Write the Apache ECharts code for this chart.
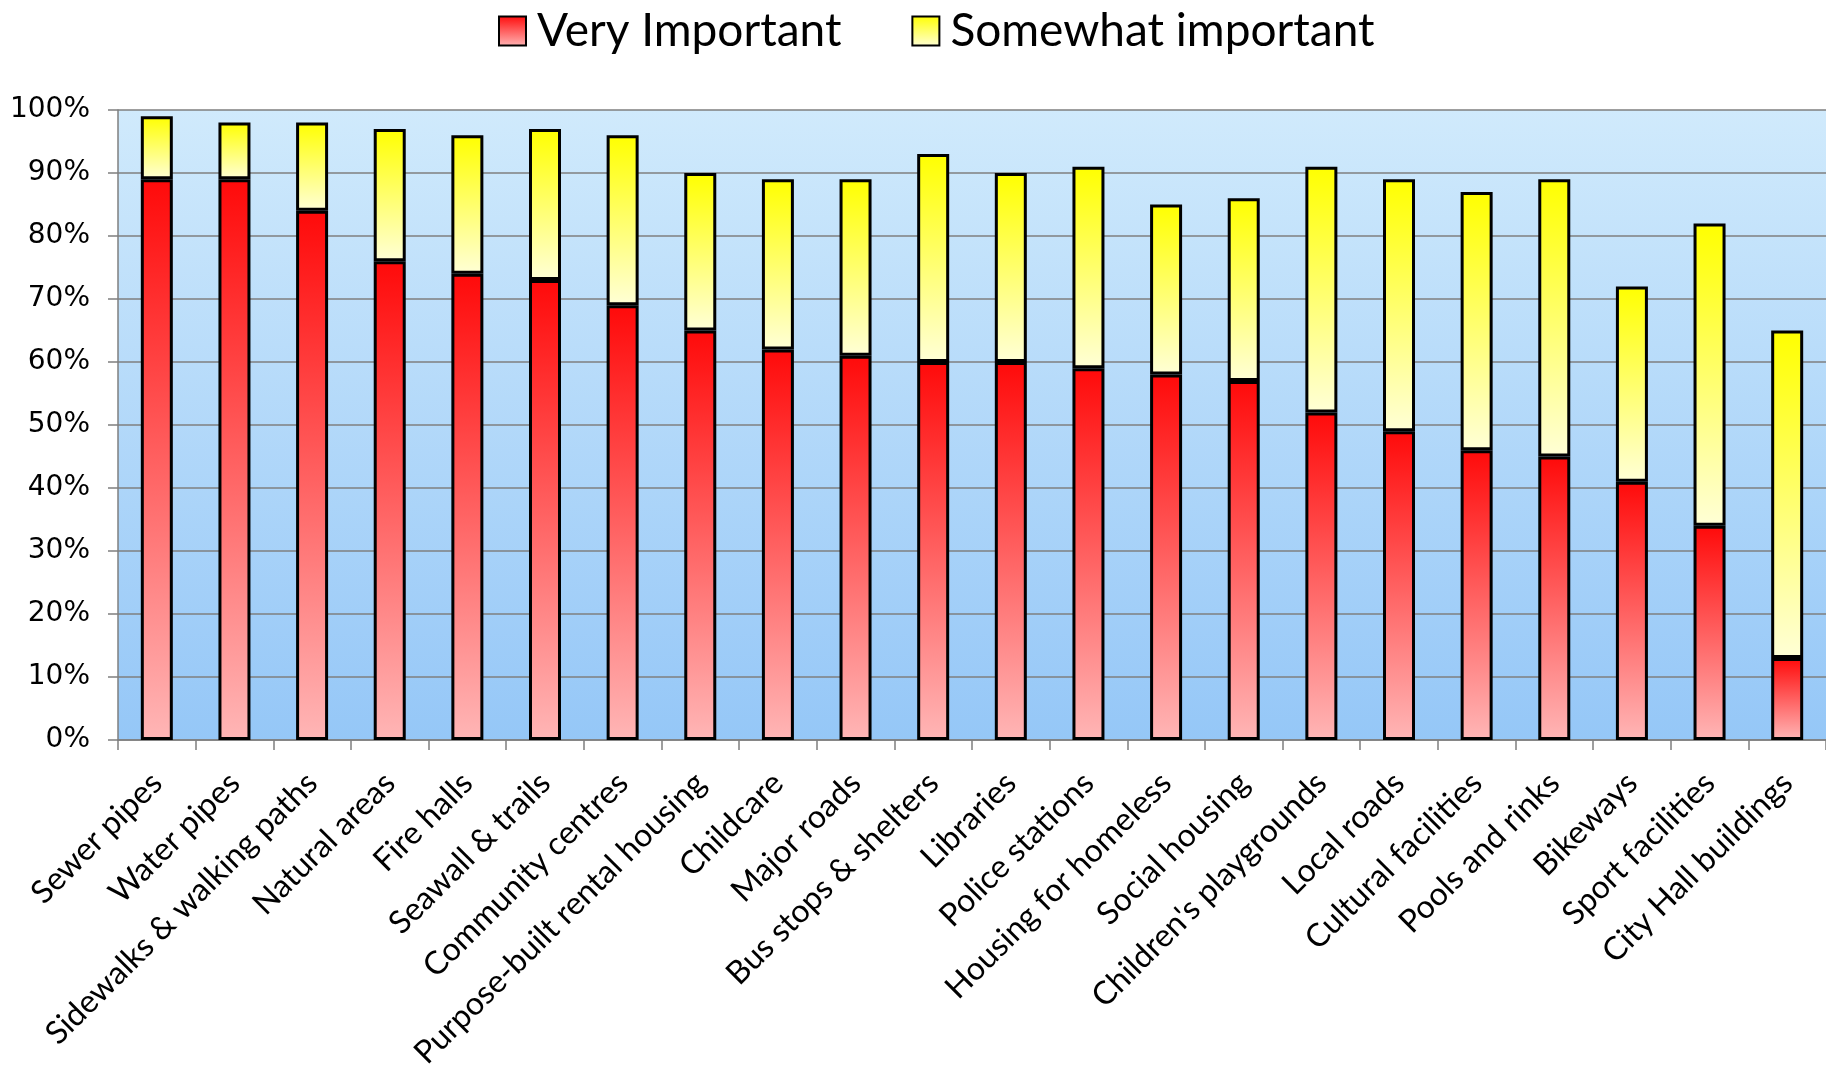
<!DOCTYPE html>
<html>
<head>
<meta charset="utf-8">
<script src="https://cdn.jsdelivr.net/npm/echarts@6/dist/echarts.min.js"></script>
<style>
  html, body { margin: 0; padding: 0; background: #ffffff; }
  #chart { width: 1826px; height: 1067px; }
</style>
</head>
<body>
<div id="chart"></div>
<script>
// Infrastructure items, ordered by share rated "Very Important"
const categories = [
  'Sewer pipes', 'Water pipes', 'Sidewalks & walking paths', 'Natural areas',
  'Fire halls', 'Seawall & trails', 'Community centres', 'Purpose-built rental housing',
  'Childcare', 'Major roads', 'Bus stops & shelters', 'Libraries',
  'Police stations', 'Housing for homeless', 'Social housing', "Children's playgrounds",
  'Local roads', 'Cultural facilities', 'Pools and rinks', 'Bikeways',
  'Sport facilities', 'City Hall buildings'
];

// Percent of respondents
const veryImportant = [89, 89, 84, 76, 74, 73, 69, 65, 62, 61, 60, 60, 59, 58, 57, 52, 49, 46, 45, 41, 34, 13];
const somewhatImportant = [10, 9, 14, 21, 22, 24, 27, 25, 27, 28, 33, 30, 32, 27, 29, 39, 40, 41, 44, 31, 48, 52];

const seriesNames = ['Very Important', 'Somewhat important'];

function vGrad(top, bottom) {
  return new echarts.graphic.LinearGradient(0, 0, 0, 1, [
    { offset: 0, color: top },
    { offset: 1, color: bottom }
  ]);
}

const chart = echarts.init(document.getElementById('chart'), null, { renderer: 'canvas' });

const gridLine = '#7f7f7f';

chart.setOption({
  backgroundColor: '#ffffff',
  animation: false,
  legend: {
    top: 3,
    left: 493,
    icon: 'rect',
    itemWidth: 27,
    itemHeight: 29,
    itemGap: 70,
    textStyle: {
      fontFamily: 'Lato',
      fontSize: 46,
      color: '#000000',
      padding: [0, 0, 0, 6]
    },
    data: seriesNames
  },
  grid: {
    left: 118,
    right: 0,
    top: 110,
    bottom: 327,
    outerBoundsMode: 'none',
    containLabel: false,
    show: true,
    borderWidth: 0,
    backgroundColor: vGrad('#d0eafc', '#95c7f7')
  },
  xAxis: {
    type: 'category',
    data: categories,
    axisLine: { show: true, lineStyle: { color: gridLine, width: 1.5 } },
    axisTick: { show: true, alignWithLabel: false, length: 10, lineStyle: { color: gridLine, width: 1.5 } },
    axisLabel: {
      interval: 0,
      rotate: 45,
      margin: 38,
      fontFamily: 'Lato',
      fontSize: 32,
      color: '#000000'
    }
  },
  yAxis: {
    type: 'value',
    min: 0,
    max: 100,
    interval: 10,
    axisLine: { show: true, lineStyle: { color: gridLine, width: 1.5 } },
    axisTick: { show: true, length: 10, inside: false, lineStyle: { color: gridLine, width: 1.5 } },
    splitLine: { show: true, lineStyle: { color: gridLine, width: 1.5 } },
    axisLabel: {
      margin: 28,
      fontFamily: 'DejaVu Sans',
      fontSize: 28,
      color: '#000000',
      formatter: '{value}%'
    }
  },
  series: [
    {
      name: seriesNames[0],
      type: 'bar',
      stack: 'total',
      barWidth: 32,
      data: veryImportant,
      itemStyle: {
        color: vGrad('#ff0a0a', '#ffb6b6'),
        borderColor: '#000000',
        borderWidth: 3
      }
    },
    {
      name: seriesNames[1],
      type: 'bar',
      stack: 'total',
      barWidth: 32,
      data: somewhatImportant,
      itemStyle: {
        color: vGrad('#ffff00', '#ffffd6'),
        borderColor: '#000000',
        borderWidth: 3
      }
    }
  ]
});
</script>
</body>
</html>
